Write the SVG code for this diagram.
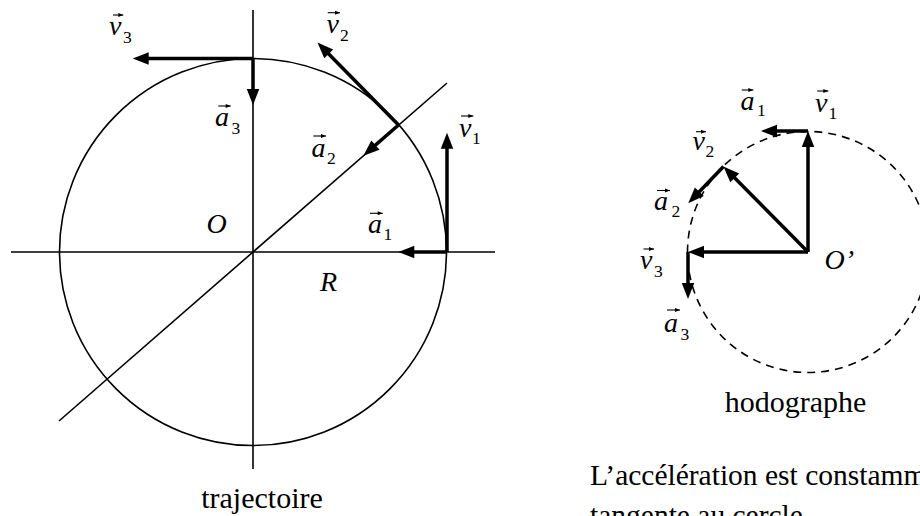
<svg xmlns="http://www.w3.org/2000/svg" width="920" height="516" viewBox="0 0 920 516">
<defs>
<marker id="ah" markerUnits="userSpaceOnUse" markerWidth="16" markerHeight="13" refX="8" refY="6.25" orient="auto" overflow="visible">
<path d="M0,0 L16,6.25 L0,12.5 Z" fill="#000"/>
</marker>
<marker id="acc" markerUnits="userSpaceOnUse" markerWidth="6" markerHeight="5" refX="5" refY="2" orient="auto" overflow="visible">
<path d="M0,0 L5,2 L0,4 Z" fill="#000"/>
</marker>
</defs>
<style>
.thin{fill:none;stroke:#000;stroke-width:1.6}
.dash{fill:none;stroke:#000;stroke-width:1.6;stroke-dasharray:8 6}
.vec{fill:none;stroke:#000;stroke-width:3.5;marker-end:url(#ah)}
.acc{fill:none;stroke:#000;stroke-width:1.1;marker-end:url(#acc)}
text{font-family:'Liberation Serif','DejaVu Serif',serif;fill:#000}
.lab{font-style:italic;font-size:28px}
.sub{font-style:normal;font-size:17.5px}
.cap{font-size:30px}
.note{font-size:29.5px}
</style>
<rect width="920" height="516" fill="#fff"/>

<g id="trajectoire">
<circle class="thin" cx="253" cy="252" r="193.5"/>
<line class="thin" x1="11" y1="252" x2="495" y2="252"/>
<line class="thin" x1="253" y1="10" x2="253" y2="469"/>
<line class="thin" x1="59" y1="421" x2="447" y2="83"/>
<text class="lab" x="206.5" y="233.3">O</text>
<text class="lab" x="320" y="290.7">R</text>
<text class="cap" x="262" y="508.3" text-anchor="middle">trajectoire</text>
</g>

<g id="hodographe">
<circle class="dash" cx="808" cy="252" r="120.5"/>
<text class="lab" x="824.5" y="269">O’</text>
<text class="cap" x="795.5" y="411.7" text-anchor="middle">hodographe</text>
</g>

<g id="connectors">
<line class="vec" x1="253" y1="58.5" x2="140.7" y2="58.5"/>
<line class="vec" x1="253" y1="58.5" x2="253" y2="97"/>
<line class="vec" x1="398.5" y1="125" x2="323.1" y2="48.2"/>
<line class="vec" x1="398.5" y1="125" x2="369.4" y2="150.4"/>
<line class="vec" x1="447" y1="252" x2="447" y2="140.7"/>
<line class="vec" x1="447" y1="252" x2="406.3" y2="252"/>

<line class="vec" x1="808" y1="252" x2="808" y2="139"/>
<line class="vec" x1="808" y1="131" x2="769" y2="131"/>
<line class="vec" x1="808" y1="252" x2="729.1" y2="172.2"/>
<line class="vec" x1="723.5" y1="166.5" x2="693.8" y2="197.5"/>
<line class="vec" x1="808" y1="252" x2="696" y2="252"/>
<line class="vec" x1="688" y1="252" x2="688" y2="291"/>
</g>

<g id="labels-trajectoire">
<path class="acc" d="M113,15 H123.3"/>
<text class="lab" x="109" y="35">v<tspan class="sub" x="123" y="43">3</tspan></text>
<path class="acc" d="M218.3,106 H230.7"/>
<text class="lab" x="215" y="126">a<tspan class="sub" x="231.5" y="134">3</tspan></text>
<path class="acc" d="M327.7,12.7 H340"/>
<text class="lab" x="326.5" y="33.3">v<tspan class="sub" x="340" y="40.5">2</tspan></text>
<path class="acc" d="M313.3,136 H326"/>
<text class="lab" x="311.5" y="156.5">a<tspan class="sub" x="327" y="163.5">2</tspan></text>
<path class="acc" d="M461,116 H473.3"/>
<text class="lab" x="459" y="136.7">v<tspan class="sub" x="472" y="143.5">1</tspan></text>
<path class="acc" d="M370,213.3 H382.7"/>
<text class="lab" x="368" y="233.3">a<tspan class="sub" x="383.5" y="239.5">1</tspan></text>
</g>

<g id="labels-hodographe">
<path class="acc" d="M741.7,90 H753.3"/>
<text class="lab" x="740.5" y="110">a<tspan class="sub" x="757" y="115.5">1</tspan></text>
<path class="acc" d="M817.3,91 H828.3"/>
<text class="lab" x="815" y="112">v<tspan class="sub" x="828.5" y="119">1</tspan></text>
<path class="acc" d="M696,131.7 H706"/>
<text class="lab" x="692.5" y="150">v<tspan class="sub" x="705.5" y="157">2</tspan></text>
<path class="acc" d="M657,190.5 H670"/>
<text class="lab" x="654" y="210">a<tspan class="sub" x="671.5" y="217">2</tspan></text>
<path class="acc" d="M643.5,249 H654"/>
<text class="lab" x="640" y="269">v<tspan class="sub" x="654" y="277">3</tspan></text>
<path class="acc" d="M667,310 H680"/>
<text class="lab" x="664" y="331.5">a<tspan class="sub" x="680.5" y="339.5">3</tspan></text>
</g>

<g id="note">
<text class="note" x="590" y="485">L’accélération est constamment</text>
<text class="note" x="590" y="525">tangente au cercle</text>
</g>
</svg>
